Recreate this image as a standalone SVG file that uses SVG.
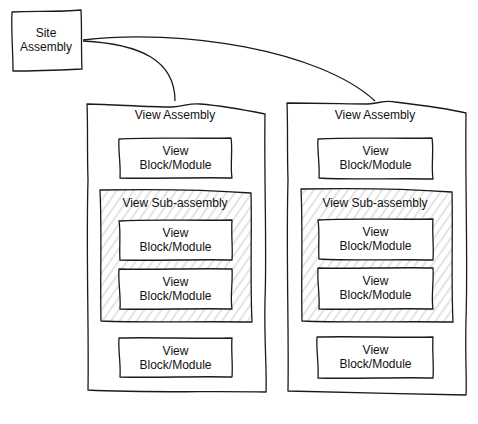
<svg xmlns="http://www.w3.org/2000/svg" width="478" height="424" viewBox="0 0 478 424">
<defs>
<pattern id="hatch" patternUnits="userSpaceOnUse" width="7" height="7" patternTransform="rotate(35)">
<rect width="7" height="7" fill="#fff"/>
<line x1="2" y1="0" x2="2" y2="7" stroke="#d6d6d6" stroke-width="1.3"/>
</pattern>
</defs>
<style>
.box{fill:#fff;stroke:#1a1a1a;stroke-width:1.3;stroke-linejoin:round}
.sub{fill:url(#hatch);stroke:#1a1a1a;stroke-width:1.3;stroke-linejoin:round}
.edge{fill:none;stroke:#1a1a1a;stroke-width:1.3}
text{font-family:"Liberation Sans",Arial,sans-serif;font-size:12px;fill:#111;text-anchor:middle}
</style>
<rect width="478" height="424" fill="#fff"/>

<g id="connectors">
<path class="edge" d="M83,41 C140,44 175,60 175,101"/>
<path class="edge" d="M83,40 C180,28 320,50 375,101"/>
</g>

<g id="site-assembly">
<path class="box" d="M12,12 C35,11 60,12 81,10 C82,30 81,50 82,69 C60,70 35,71 13,71 C13,50 11,30 12,12 Z"/>
<text x="46" y="37">Site</text>
<text x="46" y="51">Assembly</text>
</g>

<g id="view-assembly-1">
<path class="box" d="M87,104 C120,105 150,107 172,107 C185,106 190,103 200,104 C225,106 245,110 265,114 C264,180 267,250 265,300 C264,340 267,370 266,392 C210,391 140,393 88,390 C89,330 86,250 88,180 C87,150 88,125 87,104 Z"/>
<text x="175" y="119">View Assembly</text>
</g>
<g id="va1-block-1">
<path class="box" d="M119,139 C150,137 200,139 231,138 C233,150 230,165 232,178 C200,177 150,179 120,178 C121,165 118,150 119,139 Z"/>
<text x="175.5" y="154.5">View</text>
<text x="175.5" y="168.5">Block/Module</text>
</g>
<g id="va1-subassembly">
<path class="sub" d="M100,190 C150,189 210,190 251,193 C252,230 250,280 252,322 C200,321 150,323 101,321 C100,280 102,230 100,190 Z"/>
<text x="175" y="207">View Sub-assembly</text>
</g>
<g id="va1-sub-block-1">
<path class="box" d="M119,221 C155,219 195,221 232,220 C231,235 233,248 232,260 C195,259 160,261 120,260 C119,248 121,233 119,221 Z"/>
<text x="175.5" y="236.5">View</text>
<text x="175.5" y="250.5">Block/Module</text>
</g>
<g id="va1-sub-block-2">
<path class="box" d="M119,269 C150,270 200,268 232,269 C233,282 230,296 232,309 C200,308 150,310 120,309 C121,296 118,282 119,269 Z"/>
<text x="175.5" y="285.5">View</text>
<text x="175.5" y="299.5">Block/Module</text>
</g>
<g id="va1-block-2">
<path class="box" d="M119,338 C155,337 195,339 232,338 C231,351 233,364 232,377 C195,376 160,378 120,377 C121,364 118,351 119,338 Z"/>
<text x="175.5" y="354.5">View</text>
<text x="175.5" y="368.5">Block/Module</text>
</g>

<g id="view-assembly-2">
<path class="box" d="M287,103 C320,103 350,104 368,104 C380,103 385,100 395,102 C420,105 445,108 466,113 C465,180 468,260 466,320 C465,360 467,380 466,395 C410,394 340,392 288,391 C289,330 286,250 288,180 C287,150 288,125 287,103 Z"/>
<text x="375" y="119">View Assembly</text>
</g>
<g id="va2-block-1">
<path class="box" d="M318,139 C355,137 400,139 432,138 C434,150 431,166 433,179 C400,178 350,180 319,178 C320,165 317,150 318,139 Z"/>
<text x="375.5" y="154.5">View</text>
<text x="375.5" y="168.5">Block/Module</text>
</g>
<g id="va2-subassembly">
<path class="sub" d="M301,189 C350,188 410,189 452,192 C453,230 451,280 453,322 C400,321 350,323 302,321 C301,280 303,230 301,189 Z"/>
<text x="375" y="207">View Sub-assembly</text>
</g>
<g id="va2-sub-block-1">
<path class="box" d="M318,220 C355,218 400,220 433,219 C432,234 434,247 433,260 C400,259 355,261 319,259 C318,247 320,233 318,220 Z"/>
<text x="375.5" y="235.5">View</text>
<text x="375.5" y="249.5">Block/Module</text>
</g>
<g id="va2-sub-block-2">
<path class="box" d="M318,268 C350,269 400,267 433,268 C434,281 431,296 433,309 C400,308 350,310 319,309 C320,296 317,281 318,268 Z"/>
<text x="375.5" y="284.5">View</text>
<text x="375.5" y="298.5">Block/Module</text>
</g>
<g id="va2-block-2">
<path class="box" d="M317,337 C355,336 400,338 433,337 C432,350 434,364 433,378 C400,377 355,379 318,378 C319,364 316,350 317,337 Z"/>
<text x="375.5" y="353.5">View</text>
<text x="375.5" y="367.5">Block/Module</text>
</g>
</svg>
